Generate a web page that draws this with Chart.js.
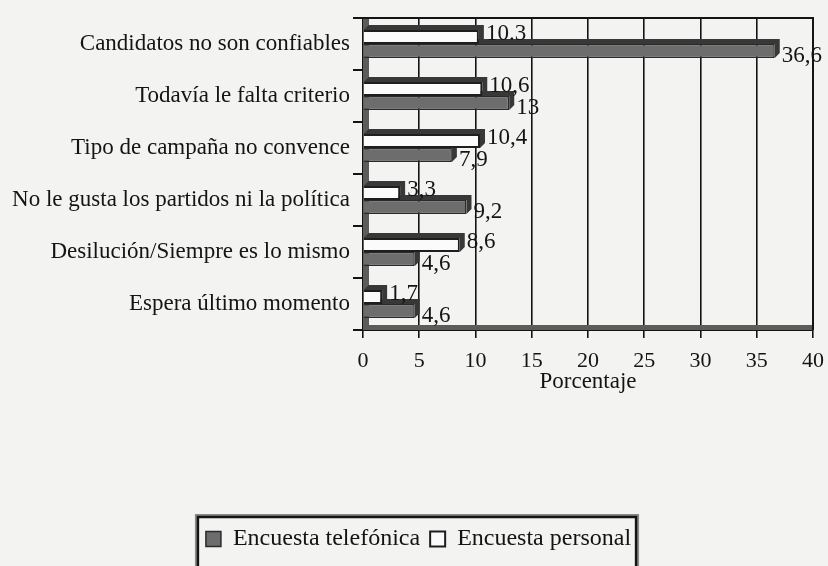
<!DOCTYPE html>
<html>
<head>
<meta charset="utf-8">
<script src="https://cdn.jsdelivr.net/npm/chart.js@4.4.1/dist/chart.umd.min.js"></script>
<style>
  html,body{margin:0;padding:0;background:#f3f3f2;}
  #wrap{width:828px;height:566px;position:relative;}
</style>
</head>
<body>
<div id="wrap"><canvas id="c" width="828" height="566"></canvas></div>
<script>
const categories = [
  "Candidatos no son confiables",
  "Todavía le falta criterio",
  "Tipo de campaña no convence",
  "No le gusta los partidos ni la política",
  "Desilución/Siempre es lo mismo",
  "Espera último momento"
];
const personalValues = [10.3, 10.6, 10.4, 3.3, 8.6, 1.7];
const telefonicaValues = [36.6, 13, 7.9, 9.2, 4.6, 4.6];
const personalLabels = ["10.3", "10,6", "10,4", "3,3", "8,6", "1,7"];
const telefonicaLabels = ["36,6", "13", "7,9", "9,2", "4,6", "4,6"];
const xTicks = [0, 5, 10, 15, 20, 25, 30, 35, 40];

const FONT = "'Liberation Serif', 'Times New Roman', serif";
const INK = "#141414";
const DEPTH = 5;
const LEGEND_SHIFT = 12;

const bgPlugin = {
  id: 'bg',
  beforeDraw(chart) {
    const ctx = chart.ctx;
    ctx.save();
    ctx.fillStyle = '#f3f3f2';
    ctx.fillRect(0, 0, chart.width, chart.height);
    ctx.restore();
  }
};

const wallPlugin = {
  id: 'walls',
  beforeDatasetsDraw(chart) {
    const {ctx, chartArea: a} = chart;
    ctx.save();
    ctx.fillStyle = '#5c5c5c';
    ctx.fillRect(a.left, a.top, 6, a.bottom - a.top);
    ctx.fillRect(a.left, a.bottom - 5, a.right - a.left, 5);
    ctx.strokeStyle = INK;
    ctx.lineWidth = 2;
    ctx.beginPath();
    ctx.moveTo(a.left, a.top);
    ctx.lineTo(a.right, a.top);
    ctx.lineTo(a.right, a.bottom);
    ctx.stroke();
    ctx.restore();
  },
  beforeDatasetDraw(chart, args) {
    const ctx = chart.ctx;
    const meta = args.meta;
    ctx.save();
    ctx.fillStyle = '#383838';
    meta.data.forEach(el => {
      const p = el.getProps(['x', 'y', 'base', 'height'], true);
      const top = p.y - p.height / 2;
      const bottom = p.y + p.height / 2;
      ctx.beginPath();
      ctx.moveTo(p.base, top);
      ctx.lineTo(p.base + DEPTH, top - DEPTH);
      ctx.lineTo(p.x + DEPTH, top - DEPTH);
      ctx.lineTo(p.x + DEPTH, bottom - DEPTH);
      ctx.lineTo(p.x, bottom);
      ctx.lineTo(p.x, top);
      ctx.closePath();
      ctx.fill();
    });
    ctx.restore();
  }
};

const labelPlugin = {
  id: 'valueLabels',
  afterDatasetsDraw(chart) {
    const ctx = chart.ctx;
    ctx.save();
    ctx.font = "23px " + FONT;
    ctx.fillStyle = INK;
    ctx.textAlign = 'left';
    ctx.textBaseline = 'middle';
    chart.data.datasets.forEach((ds, di) => {
      const meta = chart.getDatasetMeta(di);
      meta.data.forEach((el, i) => {
        const dy = di === 0 ? -3 : 5;
        ctx.fillText(ds.valueLabels[i], el.x + 7, el.y + dy);
      });
    });
    ctx.restore();
  }
};

const legendBoxPlugin = {
  id: 'legendBox',
  afterLayout(chart) {
    const lg = chart.legend;
    if (!lg) return;
    lg.left += LEGEND_SHIFT;
    lg.right += LEGEND_SHIFT;
    (lg.legendHitBoxes || []).forEach(h => { h.left += LEGEND_SHIFT; });
  },
  afterDraw(chart) {
    const lg = chart.legend;
    if (!lg || !lg.legendHitBoxes || !lg.legendHitBoxes.length) return;
    const hb = lg.legendHitBoxes;
    const l = hb[0].left - 9;
    const r = hb[hb.length - 1].left + hb[hb.length - 1].width + 6;
    const t = hb[0].top - 11;
    const ctx = chart.ctx;
    ctx.save();
    ctx.strokeStyle = '#8a8a8a';
    ctx.lineWidth = 2;
    ctx.strokeRect(l - 1, t - 1, r - l + 2, 80);
    ctx.strokeStyle = INK;
    ctx.lineWidth = 2.5;
    ctx.strokeRect(l + 1, t + 1, r - l - 2, 80);
    ctx.restore();
  }
};

new Chart(document.getElementById('c'), {
  type: 'bar',
  data: {
    labels: categories,
    datasets: [
      {
        label: 'Encuesta personal',
        data: personalValues,
        valueLabels: personalLabels,
        backgroundColor: '#fbfbfb',
        borderColor: '#1e1e1e',
        borderWidth: 2,
        categoryPercentage: 0.54,
        barPercentage: 1.0
      },
      {
        label: 'Encuesta telefónica',
        data: telefonicaValues,
        valueLabels: telefonicaLabels,
        backgroundColor: '#6d6d6d',
        borderColor: '#2a2a2a',
        borderWidth: 1.5,
        categoryPercentage: 0.54,
        barPercentage: 1.0
      }
    ]
  },
  options: {
    indexAxis: 'y',
    responsive: false,
    animation: false,
    layout: { padding: { left: 0, right: 15, top: 18, bottom: 5 } },
    scales: {
      x: {
        min: 0, max: 40,
        afterBuildTicks(scale) { scale.ticks = xTicks.map(v => ({ value: v })); },
        afterFit(scale) { scale.paddingLeft = 0; scale.paddingRight = 0; },
        grid: { color: INK, lineWidth: 1.6, tickLength: 8, drawOnChartArea: true },
        border: { display: true, color: INK, width: 2 },
        ticks: { color: INK, padding: 12, font: { family: FONT, size: 22, lineHeight: 1 } },
        title: {
          display: true, text: 'Porcentaje', color: INK,
          font: { family: FONT, size: 23, lineHeight: 1 },
          padding: { top: -14, bottom: 124 }
        }
      },
      y: {
        afterFit(scale) { scale.width = 363; },
        grid: { color: INK, lineWidth: 2, tickLength: 10, drawOnChartArea: false, offset: true },
        border: { display: true, color: INK, width: 2 },
        ticks: { color: INK, padding: 3, font: { family: FONT, size: 23 } }
      }
    },
    plugins: {
      legend: {
        position: 'bottom',
        reverse: true,
        labels: {
          color: INK, boxWidth: 15, boxHeight: 15, padding: 10,
          font: { family: FONT, size: 24 }
        }
      },
      tooltip: { enabled: false }
    }
  },
  plugins: [bgPlugin, wallPlugin, labelPlugin, legendBoxPlugin]
});
</script>
</body>
</html>
